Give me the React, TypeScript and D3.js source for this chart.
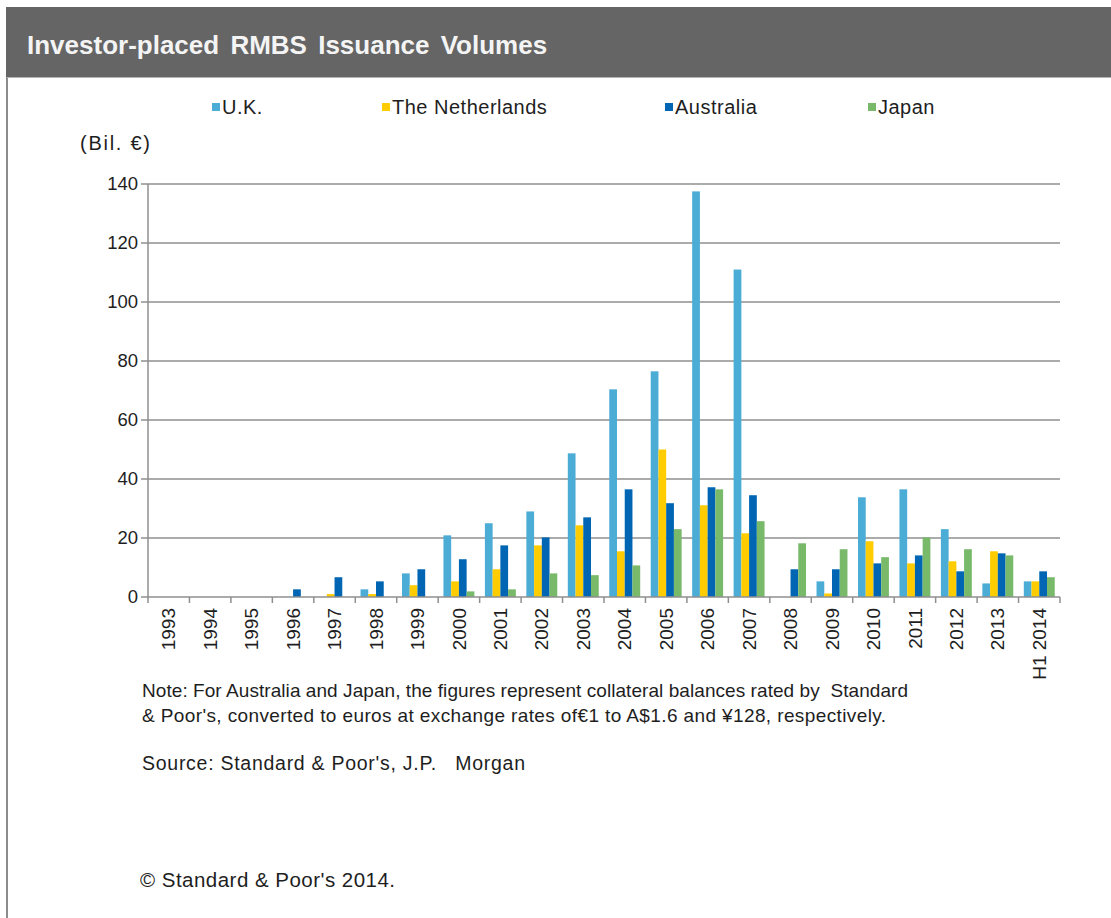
import React from "react";
import * as d3 from "d3";

const categories = [
  "1993", "1994", "1995", "1996", "1997", "1998", "1999", "2000", "2001", "2002", "2003",
  "2004", "2005", "2006", "2007", "2008", "2009", "2010", "2011", "2012", "2013", "H1 2014",
];

const seriesNames = ["U.K.", "The Netherlands", "Australia", "Japan"];
const seriesColors = ["#4bacd6", "#ffcc00", "#0066b3", "#78b96a"];

// Issuance volumes, billions of euros
const ukValues = [0, 0, 0, 0, 0, 2.6, 8, 20.9, 25, 29, 48.7, 70.4, 76.5, 137.5, 111, 0, 5.3, 33.8, 36.5, 23, 4.6, 5.3];
const netherlandsValues = [0, 0, 0, 0, 1, 1, 4, 5.3, 9.4, 17.5, 24.3, 15.5, 50, 31.1, 21.6, 0, 1.2, 18.9, 11.4, 12.1, 15.5, 5.3];
const australiaValues = [0, 0, 0, 2.6, 6.7, 5.3, 9.4, 12.8, 17.5, 20.2, 27, 36.5, 31.8, 37.2, 34.5, 9.4, 9.4, 11.4, 14.1, 8.7, 14.8, 8.7];
const japanValues = [0, 0, 0, 0, 0, 0, 0, 1.9, 2.6, 8, 7.4, 10.7, 23, 36.5, 25.7, 18.2, 16.2, 13.5, 20.2, 16.2, 14.1, 6.7];

const yTicks = [0, 20, 40, 60, 80, 100, 120, 140];

const allSeries = [ukValues, netherlandsValues, australiaValues, japanValues];

const W = 1111;
const H = 918;
const plot = { left: 148, right: 1060, top: 184, bottom: 597 };
const textColor = "#1e1e1e";
const font = "'Liberation Sans', Arial, sans-serif";

const legendItems = [
  { x: 212, label: seriesNames[0] },
  { x: 382, label: seriesNames[1] },
  { x: 665, label: seriesNames[2] },
  { x: 868, label: seriesNames[3] },
];

const footnotes = [
  { x: 142, y: 697, size: 19, len: 766, text: "Note: For Australia and Japan, the figures represent collateral balances rated by  Standard" },
  { x: 142, y: 722, size: 19, len: 744, text: "& Poor's, converted to euros at exchange rates of€1 to A$1.6 and ¥128, respectively." },
  { x: 142, y: 770, size: 19.5, len: 383, text: "Source: Standard & Poor's, J.P.   Morgan" },
  { x: 140, y: 887, size: 20.5, len: 255, text: "© Standard & Poor's 2014." },
];

export default function App() {
  const x = d3.scaleBand<string>().domain(categories).range([plot.left, plot.right]).padding(0);
  const inner = d3
    .scaleBand<string>()
    .domain(seriesNames)
    .range([0, x.bandwidth()])
    .paddingOuter(0.68)
    .paddingInner(0);
  const y = d3.scaleLinear().domain([0, 140]).range([plot.bottom, plot.top]);

  const boundaries = categories.map((c) => x(c) as number).concat([plot.right]);

  return (
    <svg
      width={W}
      height={H}
      style={{ position: "absolute", left: 0, top: 0, background: "#fff" }}
      fontFamily={font}
    >
      {/* header band */}
      <rect x={6} y={7} width={W - 6} height={70} fill="#656565" />
      <text x={27} y={54} fill="#f4f4f4" fontSize={26} fontWeight="bold" wordSpacing={4}>
        Investor-placed RMBS Issuance Volumes
      </text>
      <line x1={7} x2={7} y1={77} y2={H} stroke="#8c8c8c" strokeWidth={2} />
      <line x1={7} x2={W} y1={77.5} y2={77.5} stroke="#b5b5b5" strokeWidth={1} />

      {/* legend */}
      {legendItems.map((d, i) => (
        <g key={d.label}>
          <rect x={d.x} y={103} width={8} height={8} fill={seriesColors[i]} />
          <text x={d.x + 10} y={114} fontSize={20} fill={textColor} letterSpacing={0.5}>
            {d.label}
          </text>
        </g>
      ))}

      <text x={80} y={150} fontSize={20} fill={textColor} textLength={70} lengthAdjust="spacing">
        (Bil. €)
      </text>

      {/* gridlines and y axis */}
      {yTicks.map((t) => (
        <g key={t}>
          {t > 0 && (
            <line x1={plot.left} x2={plot.right} y1={y(t)} y2={y(t)} stroke="#8f8f8f" strokeWidth={1.5} />
          )}
          <line x1={plot.left - 7} x2={plot.left} y1={y(t)} y2={y(t)} stroke="#8f8f8f" strokeWidth={1.5} />
          <text x={plot.left - 10} y={y(t)} dy="0.35em" textAnchor="end" fontSize={18.5} fill={textColor}>
            {t}
          </text>
        </g>
      ))}
      <line x1={plot.left} x2={plot.left} y1={plot.top} y2={plot.bottom} stroke="#8f8f8f" strokeWidth={1.5} />

      {/* bars */}
      {categories.map((c, ci) => (
        <g key={c} transform={`translate(${x(c)},0)`}>
          {allSeries.map((vals, si) =>
            vals[ci] > 0 ? (
              <rect
                key={si}
                x={inner(seriesNames[si])}
                y={y(vals[ci])}
                width={inner.bandwidth()}
                height={y(0) - y(vals[ci])}
                fill={seriesColors[si]}
              />
            ) : null
          )}
        </g>
      ))}

      {/* x axis */}
      <line x1={plot.left} x2={plot.right} y1={plot.bottom} y2={plot.bottom} stroke="#8f8f8f" strokeWidth={1.5} />
      {boundaries.map((bx, i) => (
        <line key={i} x1={bx} x2={bx} y1={plot.bottom} y2={plot.bottom + 6} stroke="#8f8f8f" strokeWidth={1.5} />
      ))}
      {categories.map((c) => {
        const cx = (x(c) as number) + x.bandwidth() / 2;
        return (
          <text
            key={c}
            transform={`translate(${cx},${plot.bottom + 11}) rotate(-90)`}
            textAnchor="end"
            dy="0.35em"
            fontSize={19}
            fill={textColor}
          >
            {c}
          </text>
        );
      })}

      {/* notes */}
      {footnotes.map((f, i) => (
        <text
          key={i}
          x={f.x}
          y={f.y}
          fontSize={f.size}
          fill={textColor}
          textLength={f.len}
          lengthAdjust="spacing"
          style={{ whiteSpace: "pre" }}
        >
          {f.text}
        </text>
      ))}
    </svg>
  );
}
